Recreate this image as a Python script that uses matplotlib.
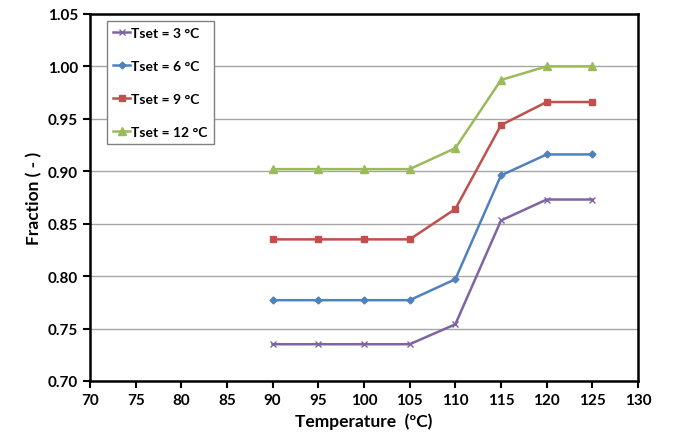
import matplotlib.pyplot as plt

plt.rcParams['font.family'] = ['Lato', 'DejaVu Sans']
plt.rcParams['font.weight'] = 'bold'

temps = [90, 95, 100, 105, 110, 115, 120, 125]
frac_3 = [0.735, 0.735, 0.735, 0.735, 0.754, 0.853, 0.873, 0.873]
frac_6 = [0.777, 0.777, 0.777, 0.777, 0.797, 0.896, 0.916, 0.916]
frac_9 = [0.835, 0.835, 0.835, 0.835, 0.864, 0.944, 0.966, 0.966]
frac_12 = [0.902, 0.902, 0.902, 0.902, 0.922, 0.987, 1.000, 1.000]

fig = plt.figure(figsize=(6.73, 4.39), dpi=100)
ax = fig.add_axes([0.1337, 0.130, 0.948 - 0.1337, 0.966 - 0.130])

ax.plot(temps, frac_3, color='#8064A2', marker='x', markersize=5, lw=1.8, label='Tset = 3 °C')
ax.plot(temps, frac_6, color='#4F81BD', marker='D', markersize=3.5, lw=1.8, label='Tset = 6 °C')
ax.plot(temps, frac_9, color='#C0504D', marker='s', markersize=5, lw=1.8, label='Tset = 9 °C')
ax.plot(temps, frac_12, color='#9BBB59', marker='^', markersize=6, lw=1.8, label='Tset = 12 °C')

ax.set_xlim(70, 130)
ax.set_ylim(0.70, 1.05)
ax.set_xticks(range(70, 131, 5))
ax.set_yticks([0.70, 0.75, 0.80, 0.85, 0.90, 0.95, 1.00, 1.05])
ax.set_yticklabels([f'{v:.2f}' for v in ax.get_yticks()])
ax.yaxis.grid(True, color='#a6a6a6', lw=1)
ax.set_axisbelow(True)
ax.tick_params(direction='out', length=5, width=1.5, labelsize=11)
for s in ax.spines.values():
    s.set_linewidth(1.8)
    s.set_color('black')

ax.set_xlabel('Temperature  (ºC)', fontsize=12.5, fontweight='bold')
ax.set_ylabel('Fraction ( - )', fontsize=12.5, fontweight='bold')

leg = ax.legend(loc='upper left', bbox_to_anchor=(0.031, 0.981), fontsize=10,
                labelspacing=1.5, handlelength=1.2, handletextpad=0.1,
                fancybox=False, framealpha=1, borderpad=0.45, borderaxespad=0)
leg.get_frame().set_edgecolor('#808080')
leg.get_frame().set_linewidth(1.0)

fig.savefig('out.png', dpi=100)
